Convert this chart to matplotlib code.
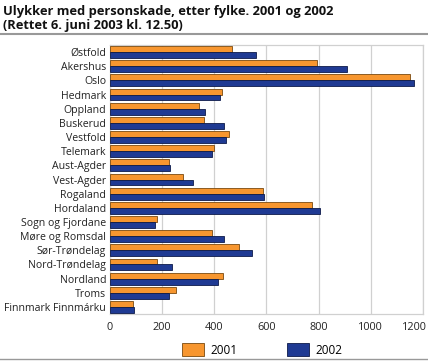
import numpy as np
import matplotlib
matplotlib.use('Agg')
import matplotlib.pyplot as plt
import matplotlib.transforms as mtransforms
from matplotlib.lines import Line2D
from matplotlib.patches import Patch

plt.rcParams['font.family'] = ['Open Sans', 'DejaVu Sans']

fylker = ['Østfold', 'Akershus', 'Oslo', 'Hedmark', 'Oppland', 'Buskerud',
          'Vestfold', 'Telemark', 'Aust-Agder', 'Vest-Agder', 'Rogaland',
          'Hordaland', 'Sogn og Fjordane', 'Møre og Romsdal', 'Sør-Trøndelag',
          'Nord-Trøndelag', 'Nordland', 'Troms', 'Finnmark Finnmárku']
ulykker_2001 = [467, 796, 1149, 429, 344, 362, 459, 399, 228, 282, 586,
                774, 181, 394, 497, 182, 433, 255, 91]
ulykker_2002 = [561, 909, 1165, 423, 367, 440, 447, 394, 233, 318, 592,
                806, 176, 438, 544, 241, 415, 229, 92]
xticks = [0, 200, 400, 600, 800, 1000, 1200]

orange = '#f7962f'
blue = '#1f3a93'

W, H = 428, 361
fig = plt.figure(figsize=(W / 100, H / 100), dpi=100)

ax = fig.add_axes([109.5 / W, 1 - 314 / H, (423 - 109.5) / W, (314 - 45) / H])

y = np.arange(len(fylker))
h = 0.42
ax.barh(y - h / 2, ulykker_2001, height=h, color=orange, edgecolor='#7a4a10', linewidth=0.6, zorder=3)
ax.barh(y + h / 2, ulykker_2002, height=h, color=blue, edgecolor='#0d1a4a', linewidth=0.6, zorder=3)

ax.set_ylim(len(fylker) - 0.5, -0.5)
ax.set_xlim(0, 1200)
ax.set_xticks(xticks)
ax.set_xticklabels([str(t) for t in xticks], fontsize=7.8, color='#222222')
ax.set_yticks(y)
ax.set_yticklabels(fylker, fontsize=7.6, color='#222222')
ax.tick_params(axis='x', length=0, pad=6)
ax.tick_params(axis='y', length=0, pad=2.5)
ax.grid(axis='x', color='#d0d0d0', linewidth=0.9, zorder=0)
for s in ax.spines.values():
    s.set_color('#d0d0d0')
    s.set_linewidth(0.9)

# keep the last tick label inside the figure
last = ax.get_xticklabels()[-1]
last.set_transform(last.get_transform() + mtransforms.ScaledTranslation(-9 / 100, 0, fig.dpi_scale_trans))

fig.text(3 / W, 1 - 11 / H, 'Ulykker med personskade, etter fylke. 2001 og 2002',
         fontsize=9.3, fontweight='bold', va='center', ha='left', color='#111111')
fig.text(3 / W, 1 - 25 / H, '(Rettet 6. juni 2003 kl. 12.50)',
         fontsize=9.3, fontweight='bold', va='center', ha='left', color='#111111')

fig.add_artist(Line2D([0, 1], [1 - 34 / H, 1 - 34 / H], color='#999999', linewidth=1.5))
fig.add_artist(Line2D([0, 1], [1 - 359 / H, 1 - 359 / H], color='#999999', linewidth=1.0))

handles = [Patch(facecolor=orange, edgecolor='#7a4a10', linewidth=0.6),
           Patch(facecolor=blue, edgecolor='#0d1a4a', linewidth=0.6)]
fig.legend(handles, ['2001', '2002'], loc='center', bbox_to_anchor=(262 / W, 1 - 350 / H),
           ncol=2, frameon=False, fontsize=8.5, handlelength=1.9, handleheight=1.3,
           columnspacing=4.2, handletextpad=0.5)

fig.savefig('out.png', dpi=100)
